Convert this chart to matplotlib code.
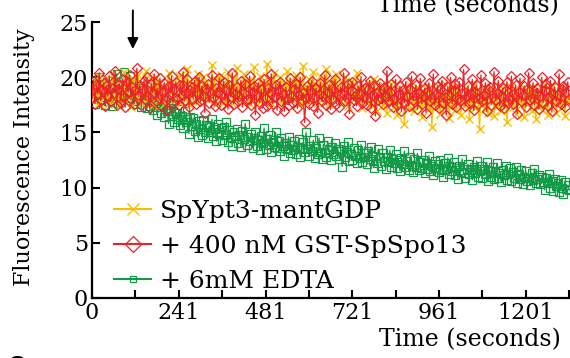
import numpy as np
import matplotlib
matplotlib.use("Agg")
from matplotlib import pyplot as plt

plt.rcParams['font.family'] = ['DejaVu Serif', 'Liberation Serif']

# one reading every 4 s, 0 .. 1320 s
dt = 4
labels = ["SpYpt3-mantGDP", "+ 400 nM GST-SpSpo13", "+ 6mM EDTA"]
xtick_pos = [0, 240, 480, 720, 960, 1200]
xtick_lab = ["0", "241", "481", "721", "961", "1201"]
ytick_pos = [0, 5, 10, 15, 20, 25]

red = [
    18.1, 19.7, 17.6, 19.3, 18.5, 20.4, 17.9, 18.8, 19.5, 17.4,
    19.2, 18.3, 20.1, 17.8, 19.0, 18.6, 20.6, 17.5, 18.9, 19.4,
    17.7, 19.8, 18.2, 17.3, 19.6, 18.7, 20.2, 18.0, 19.1, 17.6,
    18.8, 20.8, 18.4, 19.3, 17.5, 18.9, 19.7, 17.9, 20.0, 18.3,
    17.2, 19.4, 18.6, 20.3, 17.8, 19.0, 18.1, 19.9, 17.4, 18.7,
    19.5, 18.2, 17.0, 19.2, 18.5, 20.1, 17.7, 18.9, 19.6, 18.0,
    17.5, 19.3, 18.4, 20.5, 17.9, 18.6, 19.8, 17.3, 18.8, 19.1,
    18.0, 19.7, 17.6, 18.5, 20.0, 17.8, 19.2, 18.3, 16.8, 18.9,
    19.4, 17.7, 18.6, 20.2, 18.1, 17.4, 19.0, 18.7, 19.9, 17.5,
    18.4, 19.6, 17.9, 18.8, 17.1, 19.3, 18.2, 20.4, 17.6, 18.5,
    19.1, 17.8, 18.3, 19.7, 17.3, 18.6, 19.4, 17.9, 18.0, 20.1,
    17.5, 18.7, 19.2, 16.6, 18.4, 19.5, 17.7, 18.9, 17.2, 19.8,
    18.1, 17.4, 19.0, 18.6, 20.3, 17.6, 18.2, 19.3, 17.0, 18.8,
    19.6, 17.8, 18.5, 16.9, 19.1, 18.0, 17.5, 19.9, 18.3, 17.7,
    18.9, 19.4, 17.2, 18.4, 20.0, 17.9, 18.6, 15.9, 18.1, 19.2,
    17.6, 18.8, 19.7, 17.4, 18.2, 19.0, 16.8, 18.5, 19.5, 17.8,
    18.3, 20.2, 17.5, 18.7, 19.3, 17.1, 18.9, 18.0, 19.8, 17.6,
    18.4, 17.3, 19.1, 18.6, 20.4, 17.8, 18.1, 19.4, 16.7, 18.8,
    19.6, 17.9, 18.3, 17.4, 19.2, 18.5, 20.0, 17.7, 18.2, 19.0,
    17.5, 18.9, 19.7, 17.2, 18.4, 19.3, 16.5, 18.6, 17.9, 19.5,
    18.1, 17.6, 19.1, 18.3, 20.6, 17.8, 18.7, 19.4, 17.3, 18.0,
    19.8, 17.5, 18.5, 19.2, 16.9, 18.8, 17.7, 19.6, 18.2, 17.4,
    18.9, 20.1, 17.9, 18.4, 19.3, 17.1, 18.6, 19.9, 17.6, 18.3,
    19.0, 16.8, 18.7, 19.5, 17.8, 18.1, 20.3, 17.5, 18.5, 19.2,
    17.2, 18.9, 19.7, 17.7, 18.2, 16.6, 19.1, 18.4, 20.0, 17.6,
    18.8, 19.4, 17.3, 18.0, 19.6, 17.9, 18.6, 20.7, 17.4, 18.3,
    19.2, 17.7, 18.5, 19.8, 17.0, 18.7, 19.3, 17.6, 18.1, 20.2,
    17.8, 18.4, 19.5, 16.9, 18.9, 19.1, 17.5, 18.2, 20.5, 17.9,
    18.6, 19.7, 17.4, 18.3, 19.0, 17.2, 18.8, 19.6, 17.7, 18.0,
    20.1, 17.6, 18.5, 19.3, 16.7, 18.7, 19.9, 17.8, 18.4, 19.2,
    17.3, 18.9, 20.4, 17.9, 18.1, 19.5, 17.5, 18.6, 19.0, 17.1,
    18.3, 20.0, 17.7, 18.8, 19.4, 17.4, 18.2, 19.7, 16.9, 18.5,
    19.1, 17.8, 18.4, 20.3, 17.6, 18.9, 19.2, 17.3, 18.7, 19.6,
    18.0,
]

yellow = [
    19.0, 17.9, 19.6, 18.4, 20.1, 17.7, 18.9, 19.3, 18.1, 19.8,
    18.5, 17.6, 19.2, 18.8, 20.3, 18.2, 17.9, 19.5, 18.6, 17.4,
    19.1, 18.3, 20.5, 17.8, 19.0, 19.7, 18.4, 17.3, 19.9, 18.6,
    19.4, 18.0, 20.2, 18.7, 17.7, 19.3, 18.5, 20.6, 17.9, 19.1,
    18.2, 19.8, 17.5, 18.9, 20.0, 18.3, 19.5, 17.8, 18.7, 19.2,
    17.6, 19.0, 18.6, 20.4, 18.1, 19.6, 17.9, 18.8, 19.3, 18.4,
    20.1, 17.7, 19.2, 18.5, 19.9, 18.0, 20.7, 18.6, 17.5, 19.4,
    18.9, 19.7, 18.2, 20.3, 17.8, 19.1, 18.7, 20.0, 18.3, 19.5,
    17.9, 19.3, 18.6, 21.1, 18.4, 19.8, 17.6, 19.0, 18.8, 20.2,
    18.1, 19.6, 17.8, 18.9, 20.5, 18.5, 19.2, 17.7, 19.9, 18.3,
    20.8, 18.6, 19.4, 17.9, 19.0, 20.3, 18.2, 19.7, 18.8, 17.6,
    19.5, 18.4, 20.9, 18.0, 19.2, 18.7, 20.1, 17.8, 19.6, 18.5,
    19.0, 21.2, 18.3, 19.8, 17.7, 18.9, 20.4, 18.6, 19.3, 18.1,
    20.0, 18.8, 17.5, 19.4, 18.2, 20.6, 18.9, 19.1, 17.9, 19.7,
    18.4, 20.2, 18.7, 19.5, 17.6, 18.9, 21.0, 18.3, 19.2, 18.0,
    19.8, 17.8, 19.0, 20.5, 18.5, 19.3, 17.7, 18.8, 20.1, 18.6,
    19.4, 18.1, 20.7, 18.9, 17.6, 19.6, 18.4, 19.9, 18.2, 20.3,
    18.7, 19.1, 17.8, 19.5, 18.5, 20.0, 18.3, 17.4, 19.2, 18.8,
    19.7, 18.0, 18.6, 20.4, 17.9, 19.0, 18.4, 17.2, 19.3, 18.6,
    17.7, 19.5, 18.2, 18.9, 17.4, 19.8, 18.1, 16.9, 18.7, 19.1,
    18.0, 17.5, 19.2, 18.4, 16.8, 18.9, 17.7, 19.4, 18.2, 17.3,
    18.6, 16.6, 18.1, 19.0, 17.6, 18.3, 15.8, 17.9, 18.8, 17.2,
    19.3, 17.8, 18.5, 16.9, 18.0, 19.1, 17.4, 18.6, 16.4, 18.2,
    17.7, 19.0, 18.3, 17.1, 18.8, 15.5, 17.9, 18.4, 17.3, 19.2,
    18.1, 16.7, 18.6, 17.5, 19.4, 17.8, 18.2, 16.3, 18.9, 17.6,
    18.4, 17.0, 19.1, 17.9, 18.5, 16.6, 18.0, 17.4, 19.0, 17.7,
    18.7, 16.2, 18.1, 17.5, 19.3, 17.2, 18.6, 17.9, 15.3, 18.3,
    17.6, 18.9, 17.1, 18.4, 16.8, 19.0, 17.8, 18.2, 16.5, 18.7,
    17.4, 18.5, 19.2, 16.9, 18.0, 17.6, 18.8, 15.9, 18.3, 17.7,
    19.1, 17.3, 18.4, 16.7, 18.6, 17.9, 19.4, 17.5, 18.1, 16.4,
    18.8, 17.6, 18.2, 19.0, 16.9, 18.5, 17.8, 16.2, 18.9, 17.4,
    18.3, 17.0, 18.7, 19.3, 17.7, 16.6, 18.4, 17.9, 19.1, 17.5,
    18.6, 16.8, 18.0, 17.6, 19.2, 17.3, 18.5, 16.5, 18.2, 17.8,
    18.4,
]

green = [
    18.2, 19.5, 17.6, 19.1, 18.4, 20.0, 17.9, 18.8, 19.4, 17.5,
    18.9, 17.8, 19.7, 18.3, 17.4, 19.2, 18.6, 20.3, 17.7, 18.5,
    19.3, 18.0, 20.5, 18.7, 19.6, 18.1, 20.1, 18.9, 19.0, 17.8,
    19.2, 17.6, 18.7, 19.0, 17.3, 18.4, 17.9, 19.1, 17.2, 18.5,
    17.4, 18.6, 17.0, 18.2, 17.7, 16.6, 18.0, 17.3, 16.8, 17.9,
    16.4, 17.5, 16.9, 15.8, 17.2, 16.5, 17.6, 15.9, 16.8, 16.2,
    17.1, 15.7, 16.5, 15.4, 16.9, 15.9, 16.2, 14.9, 16.4, 15.6,
    16.3, 15.1, 15.8, 14.6, 16.0, 15.3, 14.8, 16.1, 15.0, 15.7,
    14.5, 15.6, 15.0, 16.2, 14.7, 15.3, 14.2, 15.8, 14.9, 15.4,
    14.3, 15.5, 14.8, 15.9, 14.1, 15.2, 14.6, 13.8, 15.0, 14.7,
    15.3, 14.0, 14.8, 13.7, 15.1, 14.4, 15.8, 13.9, 14.6, 14.2,
    14.9, 13.6, 14.5, 15.0, 13.8, 14.3, 13.4, 14.7, 14.0, 15.4,
    13.5, 14.4, 13.9, 14.8, 13.2, 14.1, 13.7, 15.0, 13.6, 14.2,
    13.3, 14.5, 13.8, 12.9, 14.0, 13.5, 14.6, 13.1, 13.9, 13.4,
    14.2, 13.0, 13.7, 14.4, 12.8, 13.6, 14.1, 13.2, 15.0, 13.5,
    12.9, 13.8, 13.3, 14.3, 12.7, 13.6, 13.0, 14.5, 13.2, 12.6,
    13.9, 13.1, 12.8, 14.2, 13.4, 12.5, 13.7, 13.0, 14.0, 12.9,
    13.5, 12.6, 13.3, 11.9, 13.8, 12.8, 13.2, 14.1, 12.4, 13.0,
    12.5, 13.6, 12.9, 12.2, 13.4, 12.7, 13.9, 12.3, 12.8, 13.1,
    12.1, 13.3, 12.6, 13.7, 12.4, 11.8, 12.9, 12.2, 13.5, 12.7,
    12.0, 13.1, 12.4, 11.7, 12.8, 12.3, 13.4, 11.9, 12.6, 12.2,
    13.0, 11.8, 12.5, 11.5, 12.7, 12.1, 13.3, 11.9, 12.4, 11.6,
    12.8, 12.0, 11.4, 12.6, 11.9, 13.1, 11.6, 12.3, 11.8, 12.5,
    11.3, 12.2, 11.7, 12.9, 11.5, 12.0, 11.1, 12.4, 11.8, 12.1,
    11.4, 12.5, 11.6, 11.0, 12.2, 11.7, 12.7, 11.2, 11.9, 11.5,
    12.3, 11.1, 11.8, 10.8, 12.0, 11.4, 12.6, 11.3, 10.9, 11.7,
    12.1, 11.2, 11.6, 10.7, 11.9, 11.3, 12.4, 11.0, 11.5, 12.0,
    10.9, 11.7, 11.2, 12.3, 10.6, 11.5, 11.0, 11.9, 10.8, 11.4,
    12.2, 10.9, 11.3, 10.5, 11.6, 11.1, 12.0, 10.7, 11.2, 11.8,
    10.6, 11.4, 10.9, 11.9, 10.4, 11.2, 10.8, 11.6, 10.3, 11.0,
    11.5, 10.6, 10.9, 10.2, 11.3, 10.7, 11.7, 10.4, 10.8, 11.1,
    10.3, 11.0, 10.5, 9.8, 10.9, 10.4, 11.2, 10.0, 10.6, 9.7,
    10.8, 10.1, 10.4, 9.6, 10.7, 10.0, 9.4, 10.5, 9.9, 10.2,
    9.8,
]

time = np.arange(len(red)) * dt

fig = plt.figure(figsize=(5.70, 3.58), dpi=100)
ax = fig.add_axes([92 / 570, 60 / 358, 479 / 570, 276 / 358])

c_yel = "#f6bf00"
c_red = "#e8232a"
c_grn = "#129a46"

# green underneath, red on top
h3, = ax.plot(time, green, color=c_grn, lw=0.9, marker="s", ms=5.5,
              mfc="none", mew=0.9, zorder=2)
h1, = ax.plot(time, yellow, color=c_yel, lw=0.9, marker="x", ms=6,
              mew=1.0, zorder=3)
h2, = ax.plot(time, red, color=c_red, lw=0.9, marker="D", ms=5,
              mfc="none", mew=0.9, zorder=4)

ax.set_xlim(0, 1325)
ax.set_ylim(0, 25)
ax.set_xticks(xtick_pos)
ax.set_xticklabels(xtick_lab)
ax.set_xticks([p + 120 for p in xtick_pos], minor=True)
ax.set_yticks(ytick_pos)
ax.tick_params(direction="in", length=6, width=1.5, labelsize=16, pad=3)
ax.tick_params(which="minor", direction="in", length=6, width=1.5)
for s in ["top", "right"]:
    ax.spines[s].set_visible(False)
for s in ["left", "bottom"]:
    ax.spines[s].set_linewidth(1.6)

ax.set_xlabel("Time (seconds)", fontsize=17)
ax.xaxis.set_label_coords(0.789, -0.11)
ax.set_ylabel("Fluorescence Intensity", fontsize=16)
ax.yaxis.set_label_coords(-0.118, 0.51)

leg = ax.legend([h1, h2, h3], labels, loc="lower left", frameon=False,
                fontsize=18, handlelength=1.5, handletextpad=0.36,
                labelspacing=0.48, borderaxespad=0.0, borderpad=0.2,
                bbox_to_anchor=(0.035, 0.0))
for h, ms in zip(leg.legend_handles, [8, 8, 4]):
    h.set_markersize(ms)
    h.set_linewidth(1.5)

# addition point
ax.annotate("", xy=(113, 22.3), xytext=(113, 26.3),
            arrowprops=dict(arrowstyle="-|>", color="black", lw=1.4,
                            mutation_scale=16),
            annotation_clip=False)

# pieces of neighbouring panels, cut by the crop
fig.text(468 / 570, 1 - 17 / 358, "Time (seconds)", fontsize=17,
         ha="center", va="bottom")
fig.text(8 / 570, 3 / 358, "C", fontsize=18, fontweight="bold",
         family="Liberation Sans", ha="left", va="top")

fig.savefig("out.png", dpi=100)
